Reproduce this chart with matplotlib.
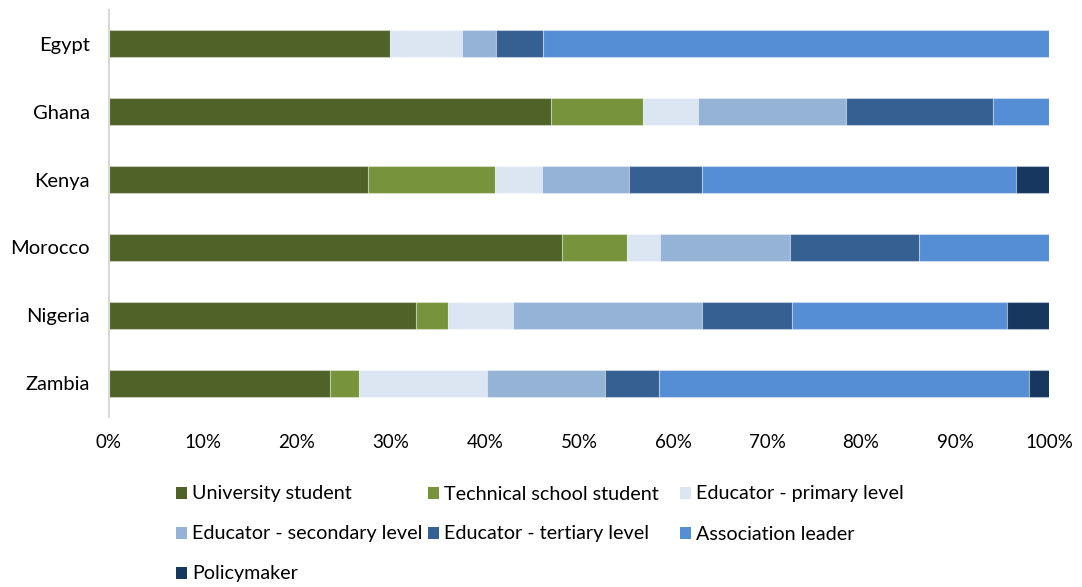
import matplotlib
matplotlib.use("Agg")
import matplotlib.pyplot as plt
from matplotlib.patches import Rectangle
from matplotlib.ticker import PercentFormatter

plt.rcParams["font.family"] = ["Lato", "DejaVu Sans"]

countries = ["Egypt", "Ghana", "Kenya", "Morocco", "Nigeria", "Zambia"]

roles = [
    "University student",
    "Technical school student",
    "Educator - primary level",
    "Educator - secondary level",
    "Educator - tertiary level",
    "Association leader",
    "Policymaker",
]

# share of respondents (%) per country, one list per role
university_student = [29.9, 47.0, 27.6, 48.2, 32.7, 23.5]
technical_school_student = [0.0, 9.8, 13.5, 6.9, 3.4, 3.1]
educator_primary = [7.6, 5.9, 5.0, 3.5, 6.9, 13.6]
educator_secondary = [3.7, 15.7, 9.2, 13.8, 20.1, 12.6]
educator_tertiary = [5.0, 15.6, 7.8, 13.8, 9.6, 5.7]
association_leader = [53.8, 6.0, 33.4, 13.8, 22.8, 39.4]
policymaker = [0.0, 0.0, 3.5, 0.0, 4.5, 2.1]

series = [
    university_student,
    technical_school_student,
    educator_primary,
    educator_secondary,
    educator_tertiary,
    association_leader,
    policymaker,
]

colors = ["#4F6228", "#77933C", "#DCE6F2", "#95B3D7", "#366092", "#558ED5", "#17375E"]

fig = plt.figure(figsize=(10.82, 5.87), dpi=100)
ax = fig.add_axes([109 / 1082, 1 - 417 / 587, 940 / 1082, 407 / 587])

ypos = list(range(len(countries)))
left = [0.0] * len(countries)
for vals, col in zip(series, colors):
    ax.barh(ypos, vals, left=left, height=0.4, color=col,
            edgecolor=(1, 1, 1, 0.35), linewidth=0.8)
    left = [a + b for a, b in zip(left, vals)]

ax.set_xlim(0, 100)
ax.set_ylim(len(countries) - 0.5, -0.5)
ax.set_yticks(ypos)
ax.set_yticklabels(countries)
ax.set_xticks(range(0, 101, 10))
ax.xaxis.set_major_formatter(PercentFormatter(decimals=0))

for s in ["top", "right", "bottom"]:
    ax.spines[s].set_visible(False)
ax.spines["left"].set_color("#D9D9D9")
ax.spines["left"].set_linewidth(1.5)
ax.tick_params(axis="both", length=0, colors="black")
ax.tick_params(axis="x", pad=12, labelsize=13.5)
ax.tick_params(axis="y", pad=14, labelsize=14.5)

# legend laid out in three fixed-width columns, filled row by row
col_x = [176, 428, 680]
row_y = [493, 533, 573]
W, H = 1082, 587
for i, (name, col) in enumerate(zip(roles, colors)):
    r, c = divmod(i, 3)
    x0 = col_x[c]
    y0 = row_y[r]
    fig.add_artist(Rectangle((x0 / W, 1 - (y0 + 6) / H), 11 / W, 12 / H,
                             transform=fig.transFigure, facecolor=col,
                             edgecolor="none"))
    fig.text((x0 + 16) / W, 1 - (y0 + 1) / H, name, fontsize=14.2,
             va="center", ha="left")

fig.savefig("out.png", dpi=100)
